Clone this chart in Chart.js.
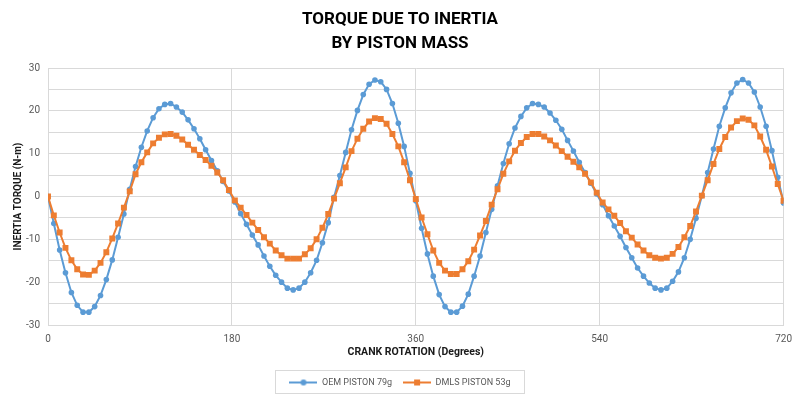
<!DOCTYPE html>
<html>
<head>
<meta charset="utf-8">
<title>Torque due to inertia by piston mass</title>
<script src="https://cdn.jsdelivr.net/npm/chart.js@4.4.0/dist/chart.umd.min.js"></script>
<style>
  html, body { margin: 0; padding: 0; background: #fff; }
  #wrap { width: 800px; height: 397px; }
</style>
</head>
<body>
<div id="wrap"><canvas id="torque-chart"></canvas></div>
<script>
'use strict';

// crank angle of every sample (degrees)
const CRANK_ANGLE = [
  0, 5.7, 11.4, 17.1, 22.9, 28.6, 34.3,
  40, 45.7, 51.4, 57.1, 62.9, 68.6, 74.3,
  80, 85.7, 91.4, 97.1, 102.9, 108.6, 114.3,
  120, 125.7, 131.4, 137.1, 142.9, 148.6, 154.3,
  160, 165.7, 171.4, 177.1, 182.9, 188.6, 194.3,
  200, 205.7, 211.4, 217.1, 222.9, 228.6, 234.3,
  240, 245.7, 251.4, 257.1, 262.9, 268.6, 274.3,
  280, 285.7, 291.4, 297.1, 302.9, 308.6, 314.3,
  320, 325.7, 331.4, 337.1, 342.9, 348.6, 354.3,
  360, 365.7, 371.4, 377.1, 382.9, 388.6, 394.3,
  400, 405.7, 411.4, 417.1, 422.9, 428.6, 434.3,
  440, 445.7, 451.4, 457.1, 462.9, 468.6, 474.3,
  480, 485.7, 491.4, 497.1, 502.9, 508.6, 514.3,
  520, 525.7, 531.4, 537.1, 542.9, 548.6, 554.3,
  560, 565.7, 571.4, 577.1, 582.9, 588.6, 594.3,
  600, 605.7, 611.4, 617.1, 622.9, 628.6, 634.3,
  640, 645.7, 651.4, 657.1, 662.9, 668.6, 674.3,
  680, 685.7, 691.4, 697.1, 702.9, 708.6, 714.3,
  720
];

// OEM piston 79g, inertia torque (N-m)
const OEM_TORQUE = [
  0, -6.3, -12.5, -17.8, -22.4, -25.4, -27.0,
  -27.0, -25.7, -23.1, -19.4, -14.8, -9.5, -4.1,
  1.7, 7.0, 11.5, 15.3, 18.4, 20.5, 21.5,
  21.7, 20.9, 19.7, 17.9, 15.8, 13.5, 10.9,
  8.4, 6.0, 3.5, 1.3, -1.3, -4.0, -6.5,
  -9.0, -11.3, -13.9, -16.3, -18.4, -20.0, -21.4,
  -21.8, -21.4, -20.0, -17.8, -14.9, -10.8, -6.1,
  -0.2, 4.9, 10.3, 15.6, 20.1, 23.8, 26.2,
  27.2, 26.8, 25.0, 21.7, 17.1, 11.7, 5.4,
  -1.0, -7.4, -13.4, -18.6, -22.9, -25.7, -27.0,
  -27.0, -25.6, -22.8, -18.6, -13.9, -8.4, -3.0,
  2.5, 7.7, 12.3, 16.0, 18.7, 20.7, 21.7,
  21.5, 20.9, 19.5, 17.8, 15.7, 13.1, 10.6,
  8.0, 5.6, 3.1, 0.6, -1.9, -4.5, -6.9,
  -9.3, -11.9, -14.3, -16.7, -18.6, -20.2, -21.4,
  -21.8, -21.4, -19.8, -17.6, -14.3, -10.0, -5.1,
  0.2, 5.6, 11.1, 16.4, 20.7, 24.2, 26.5,
  27.3, 26.5, 24.4, 20.9, 16.4, 10.7, 4.5,
  -1.5
];

// DMLS piston 53g, inertia torque (N-m)
const DMLS_TORQUE = [
  0, -4.4, -8.4, -12.0, -14.9, -17.0, -18.2,
  -18.3, -17.3, -15.5, -13.0, -9.8, -6.3, -2.6,
  1.2, 5.2, 8.0, 10.3, 12.4, 13.7, 14.5,
  14.6, 14.2, 13.3, 12.1, 10.9, 9.7, 8.5,
  7.2, 5.6, 3.8, 1.5, -0.9, -2.6, -4.3,
  -6.1, -7.8, -9.5, -11.0, -12.6, -13.7, -14.5,
  -14.5, -14.5, -13.5, -12.1, -10.0, -7.3, -4.1,
  -0.5, 3.1, 6.8, 10.6, 13.5, 15.8, 17.5,
  18.3, 18.1, 17.0, 14.6, 11.7, 8.0, 3.8,
  -0.6, -4.9, -8.8, -12.6, -15.5, -17.3, -18.1,
  -18.1, -17.0, -15.1, -12.4, -9.1, -5.7, -1.9,
  1.7, 5.3, 8.2, 10.7, 12.5, 13.9, 14.6,
  14.6, 14.0, 13.1, 11.9, 10.6, 9.3, 8.1,
  6.8, 5.3, 3.3, 0.9, -1.4, -3.0, -4.5,
  -6.2, -8.1, -9.6, -11.2, -12.6, -13.7, -14.3,
  -14.5, -14.3, -13.4, -11.8, -9.5, -6.9, -3.5,
  0.2, 3.8, 7.6, 11.1, 13.9, 16.1, 17.6,
  18.2, 17.9, 16.6, 14.0, 10.9, 7.0, 2.9,
  -1.0
];

const SERIES_NAMES = ['OEM PISTON 79g', 'DMLS PISTON 53g'];
const CHART_TITLE = ['TORQUE DUE TO INERTIA', 'BY PISTON MASS'];
const X_TITLE = 'CRANK ROTATION (Degrees)';
const Y_TITLE = 'INERTIA TORQUE (N-m)';

const OEM_COLOR = '#5B9BD5',
  DMLS_COLOR = '#ED7D31',
  GRID_COLOR = '#D9D9D9',
  TICK_COLOR = '#595959',
  FONT = "Roboto, 'Open Sans', sans-serif";

function toPoints(ys) {
  return ys.map(function (y, i) { return { x: CRANK_ANGLE[i], y: y }; });
}

// line + marker swatch for the legend
function legendMarker(color, shape) {
  const c = document.createElement('canvas');
  c.width = 28; c.height = 10;
  const ctx = c.getContext('2d');
  ctx.strokeStyle = color;
  ctx.lineWidth = 2;
  ctx.beginPath(); ctx.moveTo(0, 5); ctx.lineTo(28, 5); ctx.stroke();
  ctx.fillStyle = color;
  if (shape === 'circle') {
    ctx.beginPath(); ctx.arc(14, 5, 3, 0, 2 * Math.PI); ctx.fill();
  } else {
    ctx.fillRect(11, 2, 6, 6);
  }
  return c;
}

const MARKERS = [legendMarker(OEM_COLOR, 'circle'), legendMarker(DMLS_COLOR, 'rect')];

// thin frame around the legend, like the spreadsheet one
const legendFrame = {
  id: 'legendFrame',
  afterDraw: function (chart) {
    const boxes = chart.legend && chart.legend.legendHitBoxes;
    if (!boxes || !boxes.length) return;
    let l = Infinity, r = -Infinity, t = Infinity, b = -Infinity;
    boxes.forEach(function (h) {
      l = Math.min(l, h.left); r = Math.max(r, h.left + h.width);
      t = Math.min(t, h.top); b = Math.max(b, h.top + h.height);
    });
    const ctx = chart.ctx;
    ctx.save();
    ctx.strokeStyle = GRID_COLOR;
    ctx.lineWidth = 1;
    ctx.strokeRect(Math.round(l - 14) + 0.5, Math.round(t - 8) + 0.5, Math.round(r - l + 28), Math.round(b - t + 14));
    ctx.restore();
  }
};

new Chart(document.getElementById('torque-chart'), {
  type: 'line',
  data: {
    datasets: [{
      label: SERIES_NAMES[0],
      data: toPoints(OEM_TORQUE),
      borderColor: OEM_COLOR,
      backgroundColor: OEM_COLOR,
      borderWidth: 2,
      pointStyle: 'circle',
      pointRadius: 2.8,
      pointBorderWidth: 0,
      order: 2
    }, {
      label: SERIES_NAMES[1],
      data: toPoints(DMLS_TORQUE),
      borderColor: DMLS_COLOR,
      backgroundColor: DMLS_COLOR,
      borderWidth: 2,
      pointStyle: 'rect',
      pointRadius: 4.2,
      pointBorderWidth: 0,
      order: 1
    }]
  },
  options: {
    responsive: true,
    maintainAspectRatio: false,
    animation: false,
    layout: { padding: { left: 15, right: 15, top: 0, bottom: 0 } },
    plugins: {
      tooltip: { enabled: false },
      title: {
        display: true,
        text: CHART_TITLE,
        color: '#000',
        font: { family: FONT, size: 17, weight: 'bold', lineHeight: 1.45 },
        padding: { top: 7, bottom: 11.7 }
      },
      legend: {
        position: 'bottom',
        labels: {
          usePointStyle: true,
          pointStyleWidth: 28,
          padding: 11,
          color: TICK_COLOR,
          font: { family: FONT, size: 9 },
          generateLabels: function (chart) {
            return chart.data.datasets.map(function (ds, i) {
              return {
                text: ds.label,
                pointStyle: MARKERS[i],
                fillStyle: ds.borderColor,
                strokeStyle: ds.borderColor,
                lineWidth: 0,
                hidden: false,
                datasetIndex: i,
                fontColor: TICK_COLOR
              };
            });
          }
        }
      }
    },
    scales: {
      x: {
        type: 'linear',
        min: 0,
        max: 720,
        border: { display: true, color: GRID_COLOR },
        grid: { color: GRID_COLOR, drawTicks: false },
        ticks: { stepSize: 180, padding: 8, color: TICK_COLOR, font: { family: FONT, size: 10 } },
        title: {
          display: true,
          text: X_TITLE,
          color: '#1a1a1a',
          font: { family: FONT, size: 10.5, weight: 'bold' },
          padding: { top: 1, bottom: 8.2 }
        },
        afterFit: function (scale) { scale.height = 42; }
      },
      y: {
        min: -30,
        max: 30,
        border: { display: true, color: GRID_COLOR },
        grid: { color: GRID_COLOR, drawTicks: false },
        ticks: {
          stepSize: 5,
          padding: 8,
          color: TICK_COLOR,
          font: { family: FONT, size: 10 },
          callback: function (v) { return v % 10 === 0 ? v : ''; }
        },
        title: {
          display: true,
          text: Y_TITLE,
          color: '#1a1a1a',
          font: { family: FONT, size: 10, weight: 'bold' },
          padding: { top: -3, bottom: 0 }
        },
        afterFit: function (scale) { scale.width = 33; }
      }
    }
  },
  plugins: [legendFrame]
});
</script>
</body>
</html>
